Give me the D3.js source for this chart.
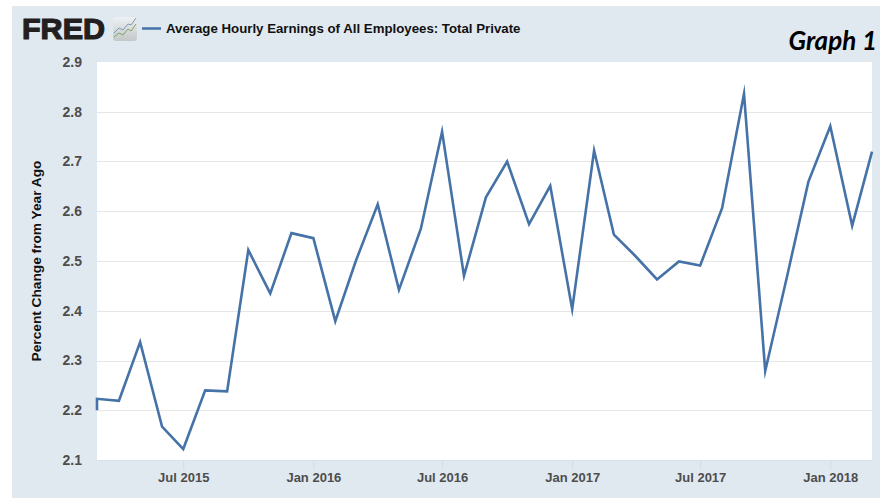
<!DOCTYPE html>
<html>
<head>
<meta charset="utf-8">
<script src="https://cdn.jsdelivr.net/npm/d3@7"></script>
<style>
  html, body { margin: 0; padding: 0; background: #fff; }
  svg { display: block; }
  text { font-family: "Liberation Sans", Arial, sans-serif; }
</style>
</head>
<body>
<svg width="880" height="498"></svg>
<script>
// monthly, the first month is there twice because the line starts with a short vertical stub
var months = ["2015-03","2015-03","2015-04","2015-05","2015-06","2015-07","2015-08","2015-09","2015-10","2015-11","2015-12",
    "2016-01","2016-02","2016-03","2016-04","2016-05","2016-06","2016-07","2016-08","2016-09","2016-10","2016-11","2016-12",
    "2017-01","2017-02","2017-03","2017-04","2017-05","2017-06","2017-07","2017-08","2017-09","2017-10","2017-11","2017-12",
    "2018-01","2018-02","2018-03"];
var earnings = [2.2,2.223,2.219,2.337,2.167,2.122,2.24,2.238,2.522,2.435,2.556,
    2.546,2.379,2.5,2.614,2.442,2.565,2.76,2.47,2.628,2.7,2.574,2.651,
    2.403,2.722,2.553,2.509,2.463,2.499,2.491,2.606,2.836,2.279,2.47,2.659,
    2.771,2.571,2.72];
var yTicks = [2.1,2.2,2.3,2.4,2.5,2.6,2.7,2.8,2.9];
var xTickMonths = ["2015-07","2016-01","2016-07","2017-01","2017-07","2018-01"];
var seriesName = "Average Hourly Earnings of All Employees: Total Private";
var yLabel = "Percent Change from Year Ago";

var parseMonth = d3.timeParse("%Y-%m");
var svg = d3.select("svg");

var left = 97, right = 872, top_ = 62, bottom = 460;
var lineColor = "#4572a7", panelColor = "#e1e9f0", tickGrey = "#4d4d4d";

var x = d3.scaleTime()
    .domain([parseMonth("2015-03"), parseMonth("2018-03")])
    .range([left, right]);
var y = d3.scaleLinear().domain([2.1, 2.9]).range([bottom, top_]);

// background panel + white plot area
svg.append("rect").attr("x", 12).attr("y", 6).attr("width", 868).attr("height", 492).attr("fill", panelColor);
svg.append("rect").attr("x", left).attr("y", top_).attr("width", right - left).attr("height", bottom - top_).attr("fill", "#fff");

// logo
svg.append("text").attr("x", 22).attr("y", 39)
    .attr("font-size", 30).attr("font-weight", "bold").attr("fill", "#231f20")
    .attr("stroke", "#231f20").attr("stroke-width", 1.2)
    .attr("textLength", 83).attr("lengthAdjust", "spacingAndGlyphs")
    .text("FRED");

var defs = svg.append("defs");
var grad = defs.append("linearGradient").attr("id", "icon-bg").attr("x1", 0).attr("y1", 0).attr("x2", 0).attr("y2", 1);
grad.append("stop").attr("offset", 0).attr("stop-color", "#eef1f3");
grad.append("stop").attr("offset", 1).attr("stop-color", "#c3c7c8");
svg.append("rect").attr("x", 113).attr("y", 17).attr("width", 24).attr("height", 24).attr("rx", 3).attr("fill", "url(#icon-bg)");
svg.append("path").attr("d", "M114,33 L119,28 L123,30 L128,24 L131,25 L136,18")
    .attr("fill", "none").attr("stroke", "#7a9cbc").attr("stroke-width", 1);
svg.append("path").attr("d", "M114,37 L119,33 L123,35 L128,29 L131,31 L136,24")
    .attr("fill", "none").attr("stroke", "#7fa25c").attr("stroke-width", 1);

// legend
svg.append("line").attr("x1", 142).attr("x2", 161).attr("y1", 28.5).attr("y2", 28.5)
    .attr("stroke", lineColor).attr("stroke-width", 2.5);
svg.append("text").attr("x", 166).attr("y", 33)
    .attr("font-size", 13.25).attr("font-weight", "bold").attr("fill", "#111")
    .text(seriesName);

svg.append("text").attr("x", 877).attr("y", 50).attr("text-anchor", "end")
    .style("font-family", "Lato, sans-serif")
    .attr("font-size", 26).attr("font-weight", "bold").attr("font-style", "italic").attr("fill", "#000")
    .text("Graph 1");

// grid and y axis
var yAxis = d3.axisLeft(y).tickValues(yTicks).tickFormat(d3.format(".1f")).tickSize(0).tickPadding(15);
var gy = svg.append("g").attr("transform", "translate(" + left + ",0)").call(yAxis);
gy.select(".domain").remove();
gy.selectAll("text").attr("font-size", 14).attr("font-weight", "bold").attr("fill", tickGrey)
    .style("font-family", "'Liberation Sans', sans-serif");

svg.append("g").selectAll("line").data(yTicks.filter(d => d > 2.1 && d < 2.9)).join("line")
    .attr("x1", left).attr("x2", right)
    .attr("y1", d => Math.round(y(d)) + 0.5).attr("y2", d => Math.round(y(d)) + 0.5)
    .attr("stroke", "#e6e6e6");

// x axis
var xAxis = d3.axisBottom(x)
    .tickValues(xTickMonths.map(parseMonth))
    .tickFormat(d3.timeFormat("%b %Y"))
    .tickSize(10).tickSizeOuter(0).tickPadding(2.5);
var gx = svg.append("g").attr("transform", "translate(0," + bottom + ")").call(xAxis);
gx.select(".domain").attr("stroke", "#d8e0ef");
gx.selectAll("line").attr("stroke", "#d3dcec");
gx.selectAll("text").attr("font-size", 13).attr("font-weight", "bold").attr("fill", tickGrey)
    .style("font-family", "'Liberation Sans', sans-serif");

svg.append("text")
    .attr("transform", "translate(40.5,261) rotate(-90)")
    .attr("text-anchor", "middle")
    .attr("font-size", 13.7).attr("font-weight", "bold").attr("fill", "#111")
    .text(yLabel);

// the series, high miter limit so the sharp peaks keep their points
var line = d3.line()
    .x((d, i) => x(parseMonth(months[i])))
    .y(d => y(d));

svg.append("path").datum(earnings)
    .attr("d", line)
    .attr("fill", "none")
    .attr("stroke", lineColor)
    .attr("stroke-width", 2.6)
    .attr("stroke-linejoin", "miter")
    .attr("stroke-miterlimit", 12);
</script>
</body>
</html>
